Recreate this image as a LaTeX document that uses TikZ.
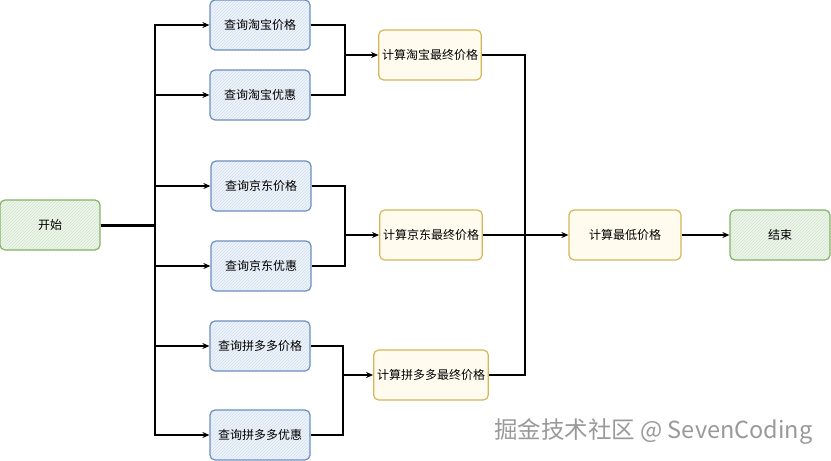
\documentclass[tikz,border=0pt]{standalone}
\usepackage{fontspec}
\setmainfont{Noto Sans CJK SC}
\usetikzlibrary{arrows.meta,patterns}

\definecolor{termline}{HTML}{82B366}
\definecolor{termfill}{HTML}{EEF6EC}
\definecolor{queryline}{HTML}{6C8EBF}
\definecolor{queryfill}{HTML}{EEF4FC}
\definecolor{calcline}{HTML}{D6B656}
\definecolor{calcfill}{HTML}{FFFBEE}

\begin{document}
\begin{tikzpicture}[x=1pt, y=-1pt,
    box/.style={rectangle, draw, rounded corners=5pt, line width=1.2pt,
                minimum width=100pt, minimum height=50pt, align=center,
                font=\fontsize{12}{14}\selectfont},
    term/.style={box, draw=termline, preaction={fill=termfill},
                 pattern=north east lines, pattern color=termline!35},
    query/.style={box, draw=queryline, preaction={fill=queryfill},
                  pattern=north east lines, pattern color=queryline!30},
    calc/.style={box, draw=calcline, fill=calcfill},
    wire/.style={line width=1.1pt},
    flow/.style={wire, -{Stealth[length=7pt,width=6pt]}}
]
    \useasboundingbox (0,0) rectangle (831,461);

    \node[term] (start) at (50,225) {开始};

    \node[query] (tbprice) at (260,25) {查询淘宝价格};
    \node[query] (tbcoupon) at (260,95) {查询淘宝优惠};
    \node[query] (jdprice) at (261,186) {查询京东价格};
    \node[query] (jdcoupon) at (261,266) {查询京东优惠};
    \node[query] (pddprice) at (260,346) {查询拼多多价格};
    \node[query] (pddcoupon) at (260,435) {查询拼多多优惠};

    \node[calc] (tbfinal) at (430,55) {计算淘宝最终价格};
    \node[calc] (jdfinal) at (431,235) {计算京东最终价格};
    \node[calc, minimum width=112pt] (pddfinal) at (431,375) {计算拼多多最终价格};

    \node[calc, minimum width=112pt] (lowest) at (625,235) {计算最低价格};
    \node[term] (finish) at (780,235) {结束};

    \coordinate (bus) at (155,225);
    \coordinate (tbjoin) at (345,55);
    \coordinate (jdjoin) at (345,235);
    \coordinate (pddjoin) at (343,375);
    \coordinate (alljoin) at (525,235);

    % fan out
    \draw[line width=3pt] (start.east) -- (bus);
    \foreach \q in {tbprice,tbcoupon,jdprice,jdcoupon,pddprice,pddcoupon}
        \draw[flow] (bus) |- (\q.west);

    % per shop
    \draw[wire] (tbprice.east) -| (tbjoin) |- (tbcoupon.east);
    \draw[flow] (tbjoin) -- (tbfinal.west);
    \draw[wire] (jdprice.east) -| (jdjoin) |- (jdcoupon.east);
    \draw[flow] (jdjoin) -- (jdfinal.west);
    \draw[wire] (pddprice.east) -| (pddjoin) |- (pddcoupon.east);
    \draw[flow] (pddjoin) -- (pddfinal.west);

    % compare
    \draw[wire] (tbfinal.east) -| (alljoin) |- (pddfinal.east);
    \draw[wire] (jdfinal.east) -- (alljoin);
    \draw[flow] (alljoin) -- (lowest.west);
    \draw[flow] (lowest) -- (finish);

    \node[anchor=east, text=gray!80, font=\fontsize{23.5}{26}\selectfont]
        (mark) at (816,431) {掘金技术社区 @ SevenCoding};
\end{tikzpicture}
\end{document}
